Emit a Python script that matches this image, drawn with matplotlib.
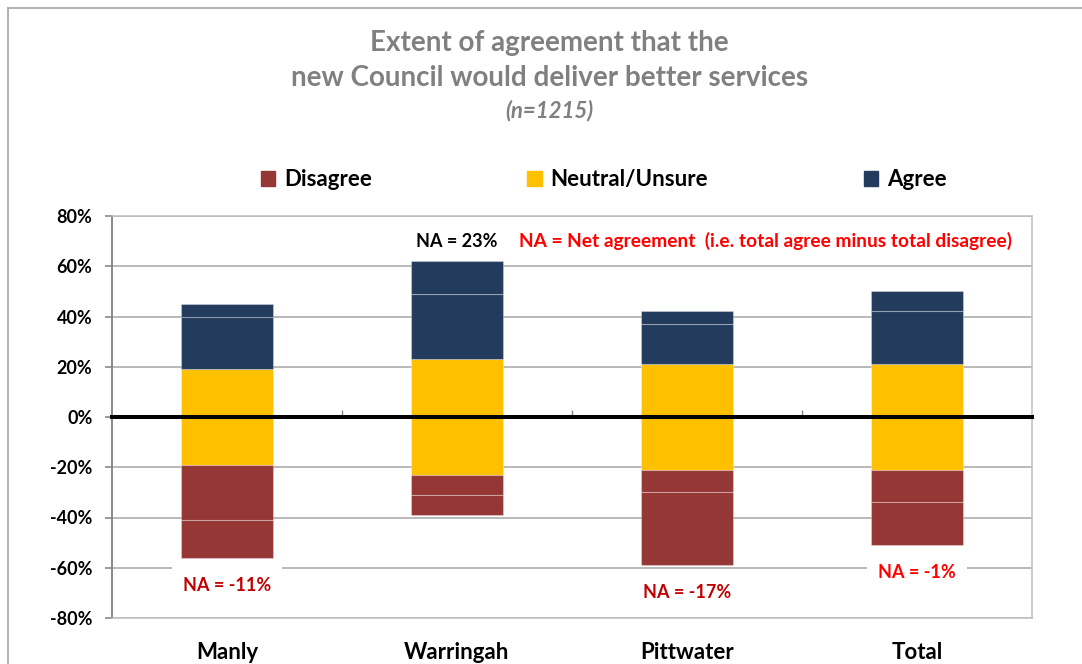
import matplotlib.pyplot as plt
from matplotlib.patches import Patch
from matplotlib.lines import Line2D
import numpy as np

plt.rcParams['font.family'] = ['Lato', 'DejaVu Sans']

# data (percent of respondents)
councils = ["Manly", "Warringah", "Pittwater", "Total"]
neutral = [38, 46, 42, 42]
disagree_somewhat = [22, 8, 9, 13]
disagree_strongly = [15, 8, 29, 17]
agree_somewhat = [21, 26, 16, 21]
agree_strongly = [5, 13, 5, 8]
na_colors = ["#C00000", "black", "#C00000", "#FF0000"]

c_dis = "#953735"
c_neu = "#FFC000"
c_agr = "#233B5C"
edge = (1, 1, 1, 0.3)

fig = plt.figure(figsize=(10.82, 6.64), dpi=100)
ax = fig.add_axes([112/1082, 1 - 618/664, 920/1082, 402/664])

x = np.arange(len(councils))
neu = np.array(neutral, dtype=float)
ds = np.array(disagree_somewhat, dtype=float)
dst = np.array(disagree_strongly, dtype=float)
ag = np.array(agree_somewhat, dtype=float)
ast = np.array(agree_strongly, dtype=float)
w = 0.4

ax.bar(x, neu, w, bottom=-neu/2, color=c_neu, edgecolor=edge, lw=0.8, zorder=3)
ax.bar(x, -ds, w, bottom=-neu/2, color=c_dis, edgecolor=edge, lw=0.8, zorder=3)
ax.bar(x, -dst, w, bottom=-neu/2 - ds, color=c_dis, edgecolor=edge, lw=0.8, zorder=3)
ax.bar(x, ag, w, bottom=neu/2, color=c_agr, edgecolor=edge, lw=0.8, zorder=3)
ax.bar(x, ast, w, bottom=neu/2 + ag, color=c_agr, edgecolor=edge, lw=0.8, zorder=3)

# net agreement labels
net = (ag + ast) - (ds + dst)
tops = neu/2 + ag + ast
bots = -neu/2 - ds - dst
for i in range(len(councils)):
    lab = f"NA = {net[i]:.0f}%"
    if net[i] > 0:
        ax.text(x[i], tops[i] + 8, lab, ha='center', va='center', fontsize=13,
                fontweight='bold', color=na_colors[i], zorder=2.5)
    else:
        ax.text(x[i], bots[i] - 11, lab, ha='center', va='center', fontsize=13,
                fontweight='bold', color=na_colors[i], zorder=2.5,
                bbox=dict(boxstyle='square,pad=0.6', fc='white', ec='none'))

ax.text(2.343, 70, "NA = Net agreement  (i.e. total agree minus total disagree)",
        ha='center', va='center', fontsize=13.8, fontweight='bold', color="#FF0000")

ax.set_xlim(-0.5, 3.5)
ax.set_ylim(-80, 80)
ax.set_yticks(np.arange(-80, 81, 20))
ax.set_yticklabels([f"{v}%" for v in range(-80, 81, 20)], fontsize=13, fontweight='bold')
ax.set_xticks(x)
ax.set_xticklabels(councils, fontsize=16, fontweight='bold')
ax.tick_params(axis='x', length=0, pad=17)
ax.tick_params(axis='y', length=5, color='#808080', width=1.1, pad=9)
ax.grid(axis='y', color='#A6A6A6', lw=1.1, zorder=0.5)
ax.set_axisbelow(True)

for s in ['top', 'right', 'bottom']:
    ax.spines[s].set_color('#BFBFBF')
    ax.spines[s].set_linewidth(1.1)
ax.spines['left'].set_color('#808080')
ax.spines['left'].set_linewidth(1.3)

ax.axhline(0, color='black', lw=2.9, zorder=4, clip_on=False)

# category boundary ticks on the zero line
sec = ax.secondary_xaxis(0.5)
sec.set_xticks([0.5, 1.5, 2.5])
sec.set_xticklabels([])
sec.tick_params(length=5, color='#808080', width=1)
sec.spines['bottom'].set_visible(False)

# title
fig.text(0.508, 0.935, "Extent of agreement that the", ha='center', va='center',
         fontsize=20, fontweight='bold', color='#808080')
fig.text(0.508, 0.882, "new Council would deliver better services", ha='center', va='center',
         fontsize=20, fontweight='bold', color='#808080')
fig.text(0.508, 0.833, "(n=1215)", ha='center', va='center',
         fontsize=16, fontweight='bold', fontstyle='italic', color='#808080')

handles = [Patch(color=c_dis, label="Disagree"),
           Patch(color=c_neu, label="Neutral/Unsure"),
           Patch(color=c_agr, label="Agree")]
fig.legend(handles=handles, loc='center', bbox_to_anchor=(0.558, 0.729), ncol=3,
           frameon=False, prop={'size': 16, 'weight': 'bold'}, handlelength=0.65,
           handleheight=0.65, handletextpad=0.4, columnspacing=7.0)

# outer chart frame
fig.add_artist(Line2D([8/1082, 1], [1 - 8/664, 1 - 8/664], color='#A6A6A6', lw=1.2,
                      transform=fig.transFigure))
fig.add_artist(Line2D([8/1082, 8/1082], [0, 1 - 8/664], color='#A6A6A6', lw=1.2,
                      transform=fig.transFigure))

fig.savefig("out.png", dpi=100)
